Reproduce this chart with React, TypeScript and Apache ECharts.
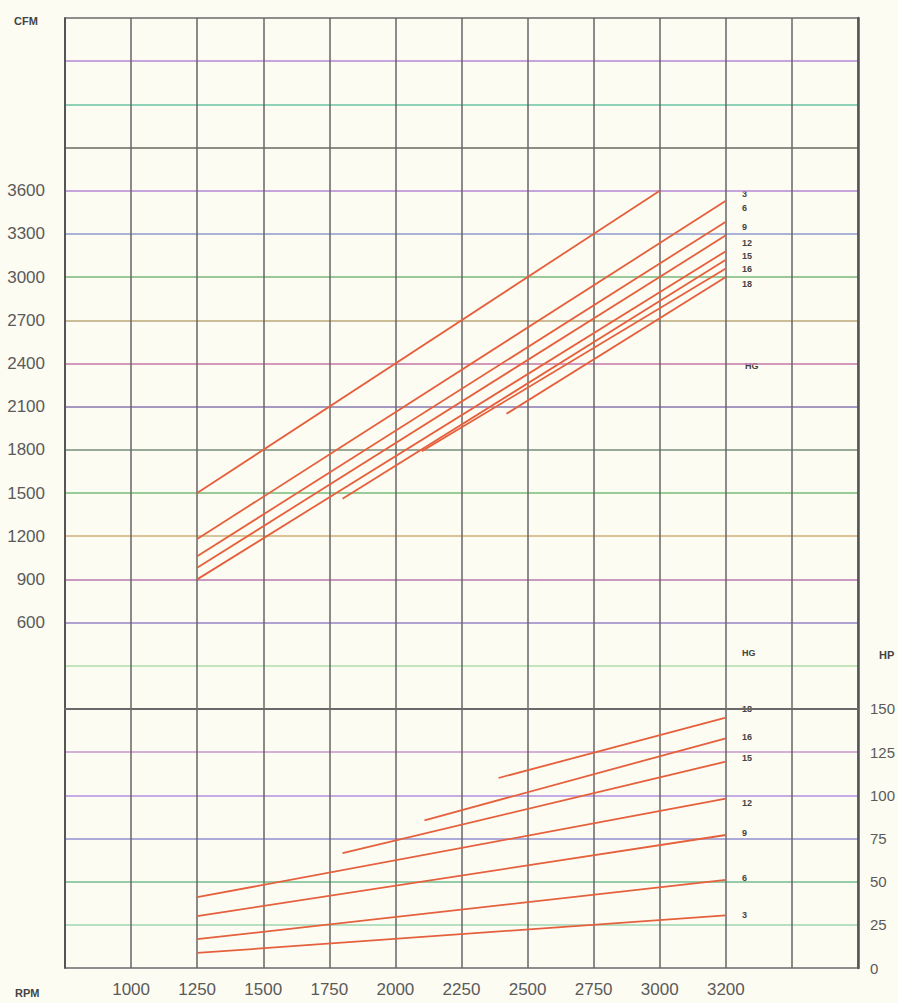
import React, { useEffect, useRef } from "react";
import * as echarts from "echarts";

// X axis (RPM) tick labels, from the 1000 gridline onward (last gridline with a label reads "3200")
const rpmTickLabels = ["1000", "1250", "1500", "1750", "2000", "2250", "2500", "2750", "3000", "3200"];
// Left axis (CFM) labelled values
const cfmTickLabels = [600, 900, 1200, 1500, 1800, 2100, 2400, 2700, 3000, 3300, 3600];
// Right axis (HP) labelled values
const hpTickLabels = [0, 25, 50, 75, 100, 125, 150];

// Upper group: CFM lines (axis RPM units; 3250 = the gridline labelled "3200")
const cfmStartRpm = [1250, 1250, 1250, 1250, 1250, 1800, 2100, 2420];
const cfmStartCfm = [1500, 1180, 1060, 980, 900, 1460, 1790, 2050];
const cfmEndRpm = [3000, 3250, 3250, 3250, 3250, 3250, 3250, 3250];
const cfmEndCfm = [3600, 3530, 3385, 3290, 3180, 3120, 3060, 3000];
const cfmHgLabels = ["3", "6", "9", "12", "15", "16", "18"];

// Lower group: HP lines
const hpHgLabels = ["18", "16", "15", "12", "9", "6", "3"];
const hpStartRpm = [2390, 2110, 1800, 1250, 1250, 1250, 1250];
const hpStartHp = [110, 85.5, 66.5, 41, 30, 16.7, 8.7];
const hpEndRpm = [3250, 3250, 3250, 3250, 3250, 3250, 3250];
const hpEndHp = [145, 133, 119.5, 98, 77, 51, 30.5];

// colours of horizontal gridlines, bottom to top
const hLineColors = [
  "#6a6a6a", "#9fd6b0", "#74bc90", "#9090d0", "#b490e0", "#c896cc", "#7a6e66", "#b0dca8",
  "#9484c4", "#b878b0", "#ccb078", "#78bc78", "#788c78", "#8878b0", "#c478a8", "#b8a878",
  "#78b878", "#8c9ccc", "#b488d4", "#6a6a60", "#68c4a4", "#b488d4", "#6a6a6a",
];

const LINE_COLOR = "#e5603d";
const FONT = "'Liberation Sans', Arial, sans-serif";

export default function App() {
  const ref = useRef<HTMLDivElement>(null);
  useEffect(() => {
    if (!ref.current) return;
    document.documentElement.style.overflow = "hidden";
    document.body.style.overflow = "hidden";
    document.body.style.margin = "0";
    const chart = echarts.init(ref.current, undefined, { renderer: "svg", width: 898, height: 1003 });

    const series: any[] = [];
    cfmStartRpm.forEach((r, i) => {
      series.push({
        type: "line",
        xAxisIndex: 0,
        yAxisIndex: 0,
        symbol: "none",
        silent: true,
        lineStyle: { color: LINE_COLOR, width: 1.8 },
        data: [
          [r, cfmStartCfm[i]],
          [cfmEndRpm[i], cfmEndCfm[i]],
        ],
      });
    });
    hpStartRpm.forEach((r, i) => {
      series.push({
        type: "line",
        xAxisIndex: 0,
        yAxisIndex: 1,
        symbol: "none",
        silent: true,
        lineStyle: { color: LINE_COLOR, width: 1.8 },
        data: [
          [r, hpStartHp[i]],
          [hpEndRpm[i], hpEndHp[i]],
        ],
      });
    });

    const upperLabelY = [193, 207, 226, 242, 255, 268, 283];
    const lowerLabelY = [708, 736, 757, 802, 832, 877, 914];
    const smallText = (text: string, x: number, y: number, size = 9) => ({
      type: "text",
      left: x,
      top: y,
      style: {
        text,
        x: 0,
        y: 0,
        fill: "#444",
        font: `bold ${size}px ${FONT}`,
        textAlign: "left",
        textVerticalAlign: "middle",
      },
    });
    const graphics: any[] = [];
    cfmHgLabels.forEach((t, i) => graphics.push(smallText(t, 742, upperLabelY[i] - 4)));
    hpHgLabels.forEach((t, i) => graphics.push(smallText(t, 742, lowerLabelY[i] - 4)));
    graphics.push(smallText("HG", 745, 361, 9));
    graphics.push(smallText("HG", 742, 648, 9));
    graphics.push(smallText("CFM", 14, 15, 11));
    graphics.push(smallText("RPM", 15, 987, 11));
    graphics.push(smallText("HP", 879, 649, 11));

    chart.setOption({
      animation: false,
      backgroundColor: "#fdfcf3",
      grid: {
        left: 65,
        top: 18,
        width: 793,
        height: 950,
        containLabel: false,
        outerBoundsMode: "none",
      },
      xAxis: {
        type: "value",
        min: 750,
        max: 3750,
        interval: 250,
        axisLine: { show: true, lineStyle: { color: "#6a6a6a", width: 2 } },
        axisTick: { show: false },
        splitLine: { show: true, lineStyle: { color: "#666", width: 1.5 } },
        axisLabel: {
          margin: 13,
          color: "#5a5a5a",
          fontSize: 17,
          fontFamily: FONT,
          formatter: (v: number) => {
            const idx = Math.round((v - 1000) / 250);
            return idx >= 0 && idx < rpmTickLabels.length ? rpmTickLabels[idx] : "";
          },
        },
      },
      yAxis: [
        {
          type: "value",
          min: -1800,
          max: 4800,
          interval: 300,
          position: "left",
          axisLine: { show: true, lineStyle: { color: "#555", width: 2 } },
          axisTick: { show: false },
          splitLine: { show: true, lineStyle: { color: hLineColors, width: 1.6 } },
          axisLabel: {
            margin: 20,
            color: "#5a5a5a",
            fontSize: 17,
            fontFamily: FONT,
            padding: [0, 0, 6, 0],
            formatter: (v: number) => (cfmTickLabels.includes(v) ? String(v) : ""),
          },
        },
        {
          type: "value",
          min: 0,
          max: 550,
          interval: 25,
          position: "right",
          axisLine: { show: true, lineStyle: { color: "#555", width: 2.5 } },
          axisTick: { show: false },
          splitLine: { show: false },
          axisLabel: {
            margin: 12,
            color: "#5a5a5a",
            fontSize: 15,
            fontFamily: FONT,
            padding: [0, 0, 12, 0],
            formatter: (v: number) => (hpTickLabels.includes(v) ? String(v) : ""),
          },
        },
      ],
      graphic: graphics,
      series,
    });
    return () => chart.dispose();
  }, []);
  return (
    <div
      ref={ref}
      style={{ position: "absolute", left: 0, top: 0, width: 898, height: 1003 }}
    />
  );
}
